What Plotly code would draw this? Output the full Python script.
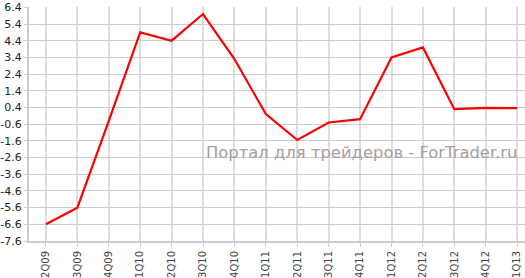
import plotly.graph_objects as go

quarters = ["2Q09", "3Q09", "4Q09", "1Q10", "2Q10", "3Q10", "4Q10", "1Q11",
            "2Q11", "3Q11", "4Q11", "1Q12", "2Q12", "3Q12", "4Q12", "1Q13"]
values = [-6.6, -5.6, -0.4, 4.9, 4.4, 6.0, 3.3, 0.0,
          -1.55, -0.5, -0.3, 3.4, 4.0, 0.3, 0.38, 0.36]
y_ticks = [round(-7.6 + i, 1) for i in range(15)]
watermark = "Портал для трейдеров - ForTrader.ru"

fig = go.Figure()
fig.add_trace(go.Scatter(
    x=list(range(len(quarters))), y=values, mode="lines",
    line=dict(color="#ff0000", width=2.2), hoverinfo="skip"))

fig.add_annotation(
    text=watermark, xref="paper", yref="paper", x=0.99, y=0.38,
    xanchor="right", yanchor="middle", showarrow=False,
    font=dict(family="DejaVu Sans", size=16.4, color="#aa9e9e"))

fig.update_layout(
    width=525, height=278,
    margin=dict(l=29, r=0, t=7, b=35),
    paper_bgcolor="white", plot_bgcolor="white",
    showlegend=False,
    xaxis=dict(
        range=[-0.54, 15.25],
        tickvals=list(range(len(quarters))), ticktext=quarters,
        tickangle=-90,
        tickfont=dict(family="DejaVu Sans", size=10, color="#444444"),
        showgrid=True, gridcolor="#dddddd", gridwidth=2,
        showline=True, linecolor="#cccccc", linewidth=2,
        ticks="outside", ticklen=4, tickcolor="#cccccc",
        zeroline=False, fixedrange=True),
    yaxis=dict(
        range=[-7.6, 6.42],
        tickvals=y_ticks, ticktext=[f"{v:.1f}" for v in y_ticks],
        tickfont=dict(family="DejaVu Sans", size=11, color="#222222"),
        showgrid=True, gridcolor="#cccccc", gridwidth=1,
        showline=True, linecolor="#cccccc", linewidth=2,
        ticks="outside", ticklen=3, tickcolor="#cccccc",
        zeroline=False, fixedrange=True, automargin=False),
)

fig.write_html("out.html", config={"displayModeBar": False})
